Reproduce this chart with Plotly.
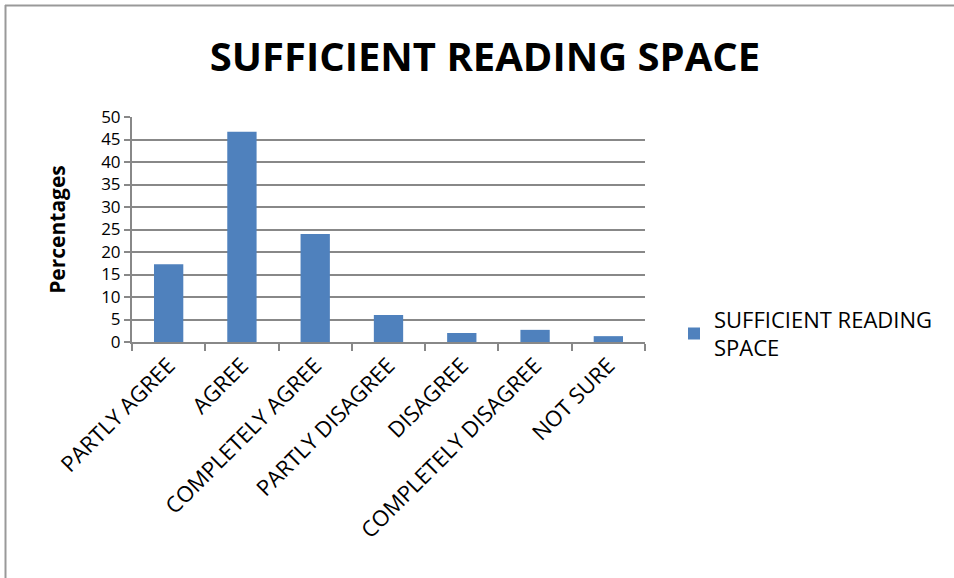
import plotly.graph_objects as go

categories = ["PARTLY AGREE", "AGREE", "COMPLETELY AGREE", "PARTLY DISAGREE",
              "DISAGREE", "COMPLETELY DISAGREE", "NOT SURE"]
values = [17.3, 46.7, 24.0, 6.0, 2.0, 2.7, 1.3]
series_name = "SUFFICIENT READING<br>SPACE"
title_text = "SUFFICIENT READING SPACE"
y_title = "Percentages"
y_ticks = [0, 5, 10, 15, 20, 25, 30, 35, 40, 45, 50]

W, H = 954, 578
L, R, T, B = 132, 309, 117, 236
pw, ph = W - L - R, H - T - B

FONT = "Open Sans"

fig = go.Figure()
fig.add_trace(go.Bar(
    x=categories, y=values, name=series_name,
    marker=dict(color="#4F81BD", line=dict(color="#4F81BD", width=0)),
    showlegend=True,
))

def px_to_paper_x(px):
    return (px - L) / pw

def px_to_paper_y(py):
    return (H - B - py) / ph

gray = "#888888"
fig.update_layout(
    width=W, height=H,
    margin=dict(l=L, r=R, t=T, b=B, autoexpand=False),
    paper_bgcolor="white", plot_bgcolor="white",
    bargap=0.6,
    title=dict(text="<b>" + title_text + "</b>", x=485 / W, xanchor="center",
               y=1 - 57 / H, yanchor="middle",
               font=dict(family=FONT, size=40, color="black")),
    font=dict(family=FONT, color="black"),
    xaxis=dict(
        type="category", tickangle=-45, tickfont=dict(size=22, color="black"),
        showline=True, linecolor=gray, linewidth=2,
        ticks="outside", tickson="boundaries", ticklen=7, tickcolor=gray, tickwidth=2,
        showgrid=False,
    ),
    yaxis=dict(
        range=[0, 50], tickvals=y_ticks, tickfont=dict(size=17, color="black"),
        showline=True, linecolor=gray, linewidth=2,
        ticks="outside", ticklen=6, tickcolor=gray, tickwidth=2,
        showgrid=True, gridcolor=gray, gridwidth=2,
        zeroline=False,
        title=dict(text="<b>" + y_title + "</b>", font=dict(size=21, color="black"), standoff=30),
    ),
    legend=dict(x=px_to_paper_x(674), y=px_to_paper_y(334), xanchor="left", yanchor="middle",
                font=dict(size=22, color="black"), bgcolor="rgba(0,0,0,0)",
                itemwidth=30, tracegroupgap=0),
    shapes=[
        dict(type="line", xref="paper", yref="paper",
             x0=px_to_paper_x(5.5), x1=px_to_paper_x(5.5), y0=px_to_paper_y(5), y1=px_to_paper_y(H + 5),
             line=dict(color="#999999", width=2)),
        dict(type="line", xref="paper", yref="paper",
             x0=px_to_paper_x(5), x1=px_to_paper_x(W), y0=px_to_paper_y(5.5), y1=px_to_paper_y(5.5),
             line=dict(color="#999999", width=2)),
    ],
)

fig.write_html("out.html", config={"displayModeBar": False},
               post_script="document.body.style.margin='0';document.body.style.overflow='hidden';")
